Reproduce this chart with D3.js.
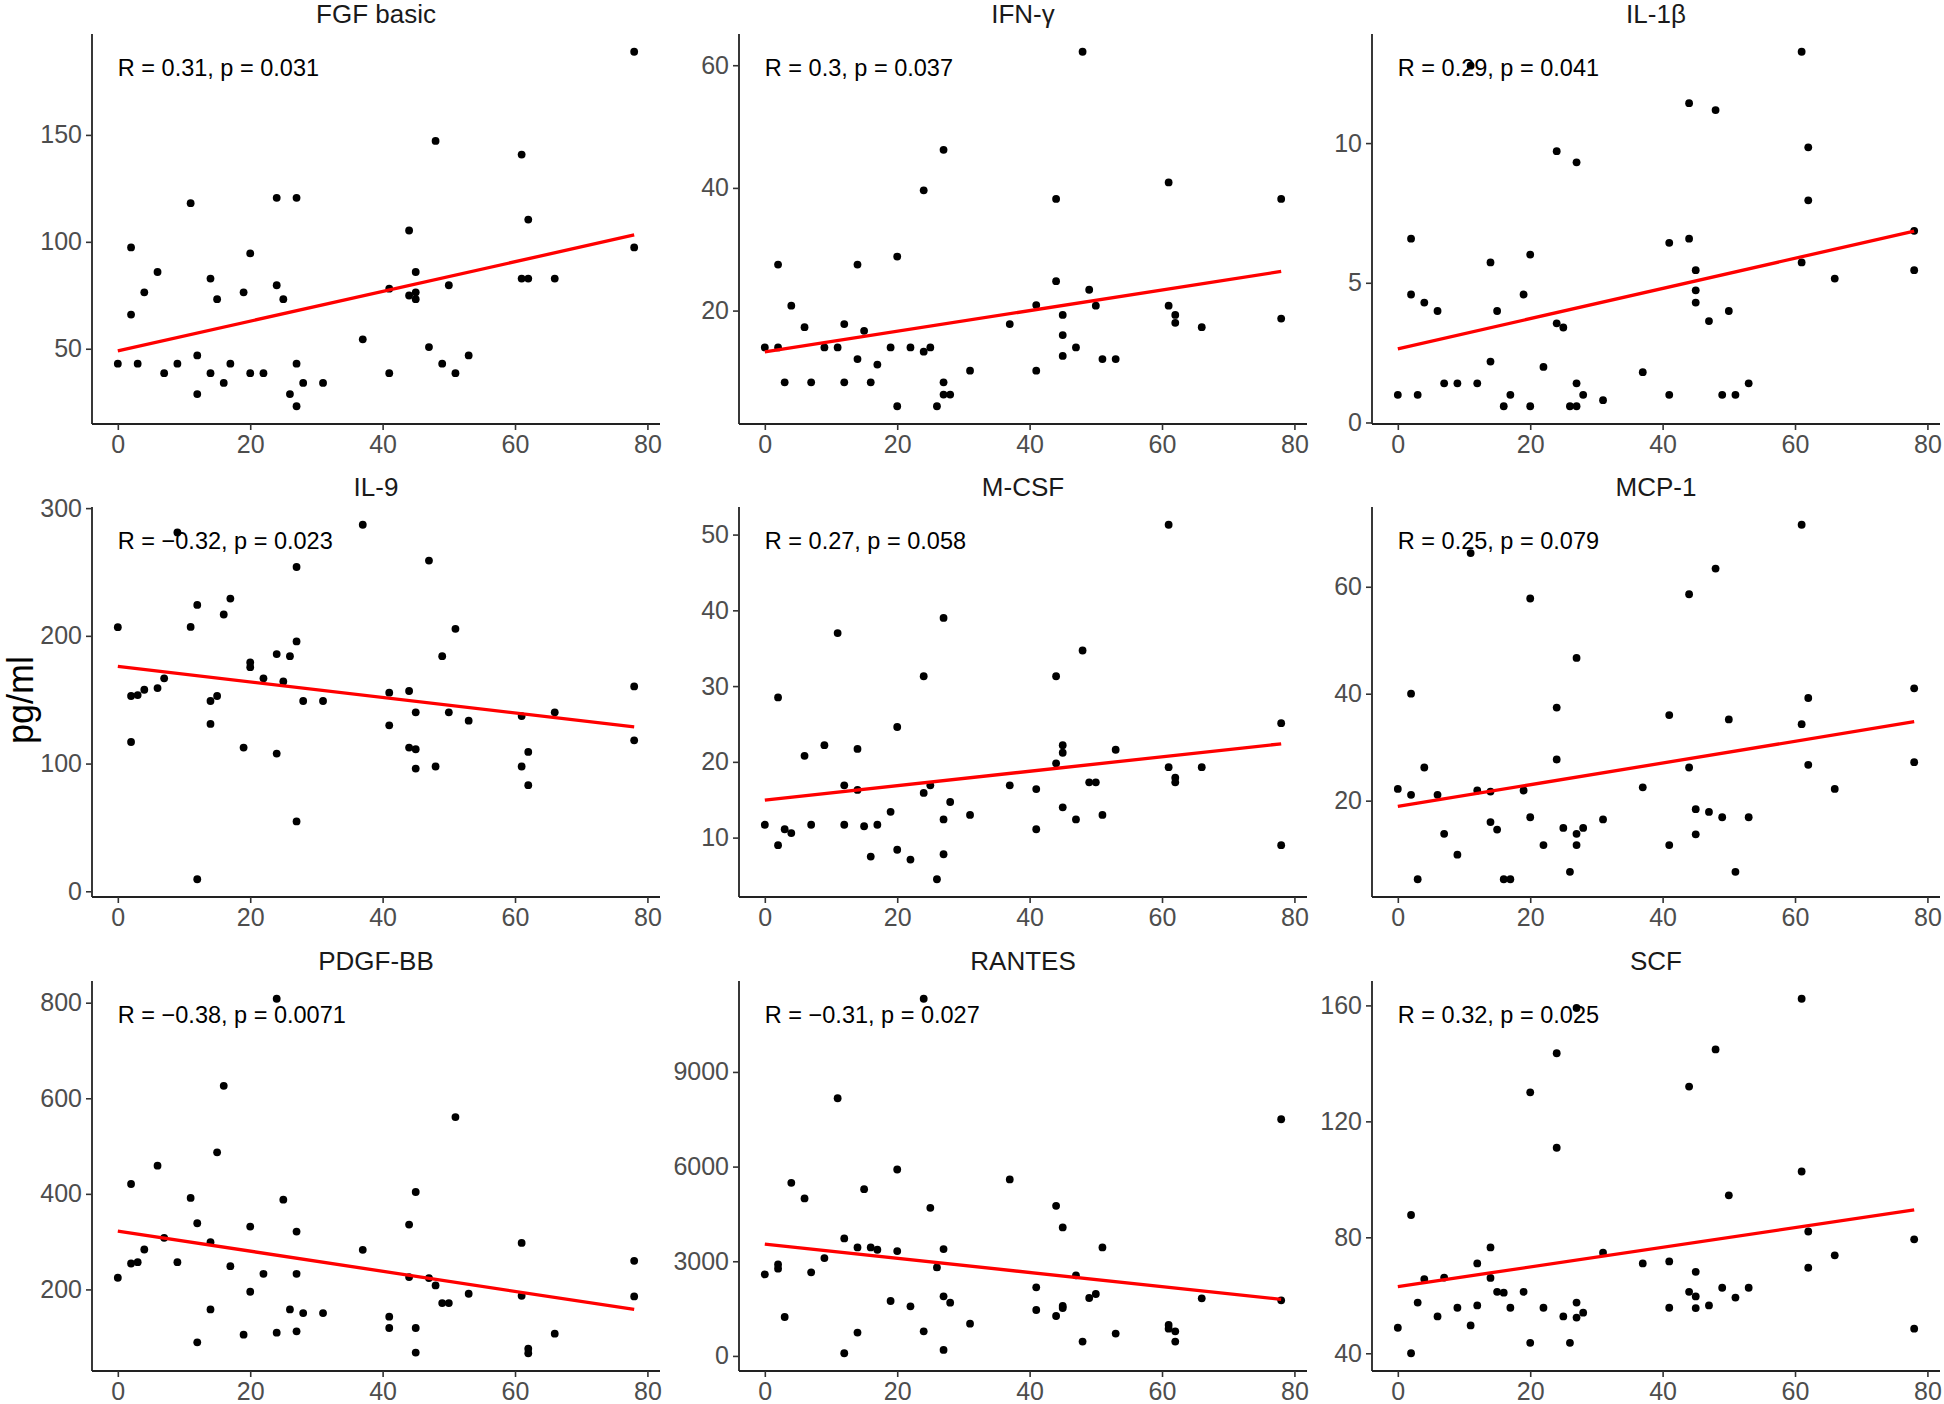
<!DOCTYPE html>
<html>
<head>
<meta charset="utf-8">
<script src="https://cdn.jsdelivr.net/npm/d3@7"></script>
<style>
  html, body { margin: 0; padding: 0; background: #ffffff; }
  svg { display: block; }
  text { font-family: "Liberation Sans", Arial, Helvetica, sans-serif; }
</style>
</head>
<body>
<svg id="chart" width="1944" height="1404"></svg>
<script>
// ---------------- data ----------------
const age = [0,2,2,3,4,6,7,9,11,12,12,14,14,15,16,17,19,20,20,22,24,24,25,26,27,27,27,28,31,37,41,41,44,44,45,45,45,47,48,49,50,51,53,61,61,62,62,66,78,78];

const panelNames = ["FGF basic", "IFN-γ", "IL-1β", "IL-9", "M-CSF", "MCP-1", "PDGF-BB", "RANTES", "SCF"];

const corLabels = [
  "R = 0.31, p = 0.031",
  "R = 0.3, p = 0.037",
  "R = 0.29, p = 0.041",
  "R = \u22120.32, p = 0.023",
  "R = 0.27, p = 0.058",
  "R = 0.25, p = 0.079",
  "R = \u22120.38, p = 0.0071",
  "R = \u22120.31, p = 0.027",
  "R = 0.32, p = 0.025"
];

const fgfBasic = [43.0, 97.4, 66.0, 43.0, 76.4, 85.9, 38.6, 43.0, 118.1, 46.9, 28.8, 82.8, 38.6, 73.2, 34.0, 43.0, 76.4, 94.6, 38.6, 38.6, 120.6, 79.7, 73.2, 28.8, 120.6, 43.0, 23.1, 34.0, 34.0, 54.4, 78.1, 38.6, 105.3, 74.9, 85.9, 76.4, 73.2, 50.8, 147.2, 43.0, 79.7, 38.6, 46.9, 140.8, 82.8, 110.4, 82.8, 82.8, 188.9, 97.4];
const ifnG = [14.0, 27.5, 14.0, 8.3, 20.8, 17.3, 8.3, 14.0, 14.0, 17.8, 8.3, 27.5, 12.1, 16.7, 8.3, 11.2, 14.0, 28.8, 4.4, 14.0, 39.6, 13.3, 14.0, 4.4, 46.2, 8.3, 6.3, 6.3, 10.2, 17.8, 20.9, 10.2, 38.2, 24.8, 19.3, 16.0, 12.6, 14.0, 62.2, 23.4, 20.8, 12.1, 12.1, 40.9, 20.8, 19.3, 18.0, 17.3, 38.2, 18.7];
const il1b = [0.99, 6.58, 4.58, 0.99, 4.29, 3.99, 1.40, 1.40, 12.77, 1.40, null, 5.73, 2.18, 3.99, 0.58, 0.99, 4.58, 6.01, 0.58, 1.99, 9.71, 3.55, 3.40, 0.58, 9.31, 1.40, 0.58, 0.99, 0.80, 1.80, 6.43, 0.99, 11.43, 6.58, 5.45, 4.73, 4.29, 3.63, 11.18, 0.99, 3.99, 0.99, 1.40, 13.27, 5.73, 9.85, 7.95, 5.15, 6.86, 5.45];
const il9 = [206.8, 152.9, 116.9, 153.6, 157.8, 159.1, 166.7, 281.0, 207.0, 224.2, 9.4, 149.0, 131.0, 152.9, 216.7, 229.2, 112.5, 179.2, 175.5, 166.7, 185.7, 107.8, 164.3, 184.1, 253.9, 195.6, 54.7, 149.0, 149.0, 287.0, 155.5, 129.9, 156.8, 112.5, 140.1, 111.2, 96.1, 258.9, 97.7, 184.1, 140.1, 205.5, 133.6, 137.2, 97.7, 109.1, 83.1, 140.1, 160.4, 118.2];
const mcsf = [11.7, 28.5, 9.0, 11.1, 10.6, 20.8, 11.7, 22.2, 37.0, 16.9, 11.7, 21.7, 16.3, 11.5, 7.5, 11.7, 13.4, 24.6, 8.4, 7.1, 31.3, 15.9, 16.9, 4.5, 39.0, 12.4, 7.8, 14.7, 13.0, 16.9, 16.4, 11.1, 31.3, 19.8, 22.2, 21.2, 14.0, 12.4, 34.7, 17.3, 17.3, 13.0, 21.6, 51.3, 19.3, 17.9, 17.3, 19.3, 25.1, 9.0];
const mcp1 = [22.2, 40.0, 21.1, 5.3, 26.2, 21.1, 13.8, 9.9, 66.3, 21.9, null, 21.7, 16.0, 14.6, 5.3, 5.3, 21.9, 57.8, 16.9, 11.7, 37.4, 27.7, 14.9, 6.7, 46.7, 13.8, 11.7, 14.9, 16.5, 22.5, 36.0, 11.7, 58.6, 26.2, 18.4, 13.7, null, 17.9, 63.4, 16.9, 35.2, 6.7, 16.9, 71.6, 34.3, 39.2, 26.7, 22.2, 41.0, 27.2];
const pdgfBB = [224.4, 420.6, 254.3, 257.1, 283.5, 458.9, 307.9, 257.1, 391.4, 338.5, 89.3, 298.8, 158.2, 486.8, 626.0, 248.7, 105.3, 331.6, 195.1, 232.7, 808.3, 109.5, 387.9, 158.2, 321.1, 232.7, 112.3, 150.6, 150.6, 282.8, 142.9, 119.3, 335.7, 225.8, 403.9, 119.3, 67.8, 223.7, 208.4, 171.5, 171.5, 560.6, 191.0, 297.4, 186.8, 76.1, 66.4, 107.4, 259.9, 185.4];
const rantes = [2585, 2901, 2764, 1234, 5486, 4990, 2648, 3102, 8166, 3724, 84, 3439, 739, 5286, 3439, 3365, 1741, 5908, 3323, 1572, 11320, 781, 4695, 2806, 3387, 1888, 190, 1688, 1023, 5592, 2173, 1456, 4758, 1266, 4072, 1583, 1519, 2553, 454, 1836, 1962, 3439, 707, 981, 865, 781, 454, 1825, 7501, 1762];
const scf = [48.8, 87.7, 40.0, 57.5, 65.6, 52.7, 66.1, 55.7, 49.6, 71.0, 56.5, 76.5, 66.0, 61.2, 60.9, 55.7, 61.2, 130.0, 43.6, 55.7, 143.5, 110.9, 52.7, 43.6, 159.1, 57.5, 52.3, 54.0, 74.7, 71.0, 71.7, 55.7, 132.0, 61.2, 68.1, 59.6, 55.6, 56.5, 144.8, 62.6, 94.5, 59.2, 62.6, 162.3, 102.7, 82.0, 69.5, 73.8, 79.3, 48.5];

const panelValues = [fgfBasic, ifnG, il1b, il9, mcsf, mcp1, pdgfBB, rantes, scf];

const xTicks = [0, 20, 40, 60, 80];
const yTicks = [
  [50, 100, 150],
  [20, 40, 60],
  [0, 5, 10],
  [0, 100, 200, 300],
  [10, 20, 30, 40, 50],
  [20, 40, 60],
  [200, 400, 600, 800],
  [0, 3000, 6000, 9000],
  [40, 80, 120, 160]
];
const yAxisTitle = "pg/ml";

// ---------------- layout ----------------
const colLeft = [92, 739, 1372];
const rowTop = [34, 507, 981];
const pw = 568, ph = 390;

const svg = d3.select("#chart");

function expandDomain(ext) {
  const r = ext[1] - ext[0];
  return [ext[0] - 0.05 * r, ext[1] + 0.05 * r];
}

const xExt = d3.extent(age);

panelNames.forEach((name, i) => {
  const col = i % 3, row = Math.floor(i / 3);
  const g = svg.append("g").attr("transform", `translate(${colLeft[col]},${rowTop[row]})`);

  const pts = age.map((a, k) => ({ x: a, y: panelValues[i][k] })).filter(d => d.y != null);

  const x = d3.scaleLinear().domain(expandDomain(xExt)).range([0, pw]);
  const y = d3.scaleLinear().domain(expandDomain(d3.extent(pts, d => d.y))).range([ph, 0]);

  // axes
  const xAxis = g.append("g").attr("transform", `translate(0,${ph})`)
    .call(d3.axisBottom(x).tickValues(xTicks).tickSize(6).tickPadding(5).tickFormat(d3.format("d")));
  const yAxis = g.append("g")
    .call(d3.axisLeft(y).tickValues(yTicks[i]).tickSize(6).tickPadding(4).tickFormat(d3.format("d")));

  [xAxis, yAxis].forEach(ax => {
    ax.select(".domain").attr("stroke", "#222").attr("stroke-width", 1.8);
    ax.selectAll(".tick line").attr("stroke", "#333").attr("stroke-width", 1.6);
    ax.selectAll(".tick text").attr("fill", "#4d4d4d").style("font-size", "25px")
      .style("font-family", '"Liberation Sans", Arial, Helvetica, sans-serif');
  });
  xAxis.select(".domain").attr("d", `M0,0H${pw}`);
  yAxis.select(".domain").attr("d", `M0,0V${ph}`);

  // points
  g.append("g").selectAll("circle").data(pts).join("circle")
    .attr("cx", d => x(d.x)).attr("cy", d => y(d.y)).attr("r", 3.9).attr("fill", "#000");

  // linear regression (least squares on the panel's points)
  const mx = d3.mean(pts, d => d.x), my = d3.mean(pts, d => d.y);
  const sxy = d3.sum(pts, d => (d.x - mx) * (d.y - my));
  const sxx = d3.sum(pts, d => (d.x - mx) * (d.x - mx));
  const slope = sxy / sxx, icpt = my - slope * mx;
  const lx = d3.extent(pts, d => d.x);
  g.append("path")
    .datum(lx.map(v => [v, icpt + slope * v]))
    .attr("d", d3.line().x(d => x(d[0])).y(d => y(d[1])))
    .attr("fill", "none").attr("stroke", "#ff0000").attr("stroke-width", 3.3);

  // correlation label
  g.append("text").attr("x", x(d3.min(pts, d => d.x))).attr("y", 42)
    .attr("fill", "#000").style("font-size", "23.5px").text(corLabels[i]);

  // strip title
  g.append("text").attr("x", pw / 2).attr("y", -11).attr("text-anchor", "middle")
    .attr("fill", "#1a1a1a").style("font-size", "26px").text(name);
});

// y axis title
svg.append("text")
  .attr("transform", `translate(33,700) rotate(-90)`)
  .attr("text-anchor", "middle").attr("fill", "#000")
  .style("font-size", "36px").text(yAxisTitle);
</script>
</body>
</html>
